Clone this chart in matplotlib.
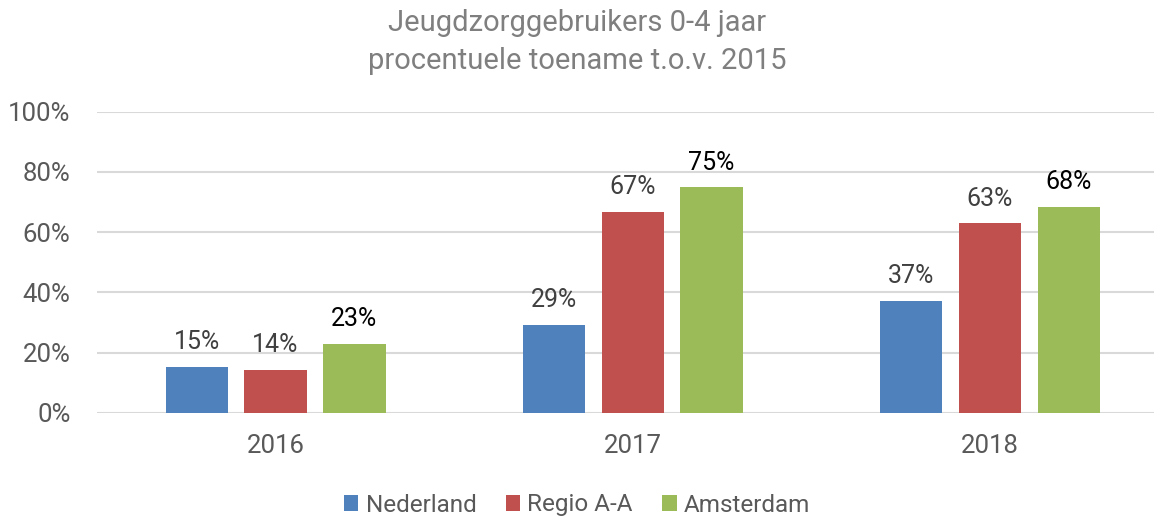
import matplotlib.pyplot as plt
import numpy as np
from matplotlib.ticker import PercentFormatter

years = ['2016', '2017', '2018']
series = ['Nederland', 'Regio A-A', 'Amsterdam']
nederland = [15.4, 29.3, 37.2]
regio_aa = [14.4, 66.8, 63.0]
amsterdam = [23.0, 75.0, 68.4]

colors = ['#4f81bd', '#c0504d', '#9bbb59']
label_colors = ['#404040', '#404040', '#000000']

plt.rcParams['font.family'] = ['Roboto', 'DejaVu Sans']

fig = plt.figure(figsize=(11.54, 5.18), dpi=100)
ax = fig.add_axes([97 / 1154, 1 - 413 / 518, 1 - 97 / 1154, (413 - 111.7) / 518])

x = np.arange(len(years))
width = 0.174
offset = 0.221
values = [nederland, regio_aa, amsterdam]

for i, (name, vals) in enumerate(zip(series, values)):
    pos = x + (i - 1) * offset
    bars = ax.bar(pos, vals, width, color=colors[i], label=name, zorder=3)
    for b, v in zip(bars, vals):
        ax.annotate(f'{v:.0f}%', (b.get_x() + b.get_width() / 2, v),
                    xytext=(0, 9), textcoords='offset points',
                    ha='center', va='bottom', fontsize=18,
                    color=label_colors[i], zorder=4)

ax.set_xlim(-0.5, 2.46)
ax.set_ylim(0, 100)
ax.set_yticks(np.arange(0, 101, 20))
ax.yaxis.set_major_formatter(PercentFormatter(decimals=0))
ax.set_xticks(x)
ax.set_xticklabels(years)
ax.tick_params(axis='both', length=0, labelsize=18.5, labelcolor='#595959')
ax.tick_params(axis='x', pad=15)
ax.tick_params(axis='y', pad=19)
ax.grid(axis='y', color='#d9d9d9', linewidth=1.5, zorder=0)
for s in ax.spines.values():
    s.set_visible(False)

fig.text(0.5, 1 - 23 / 518, 'Jeugdzorggebruikers 0-4 jaar', ha='center', va='center',
         fontsize=21, color='#7f7f7f')
fig.text(0.5, 1 - 61 / 518, 'procentuele toename t.o.v. 2015', ha='center', va='center',
         fontsize=21, color='#7f7f7f')

fig.legend(loc='center', bbox_to_anchor=(0.5, 1 - 505 / 518), ncol=3, frameon=False,
           fontsize=17.5, labelcolor='#595959', handlelength=0.6, handleheight=0.6,
           handletextpad=0.3, columnspacing=1.2, borderaxespad=0)

fig.savefig('out.png', dpi=100)
